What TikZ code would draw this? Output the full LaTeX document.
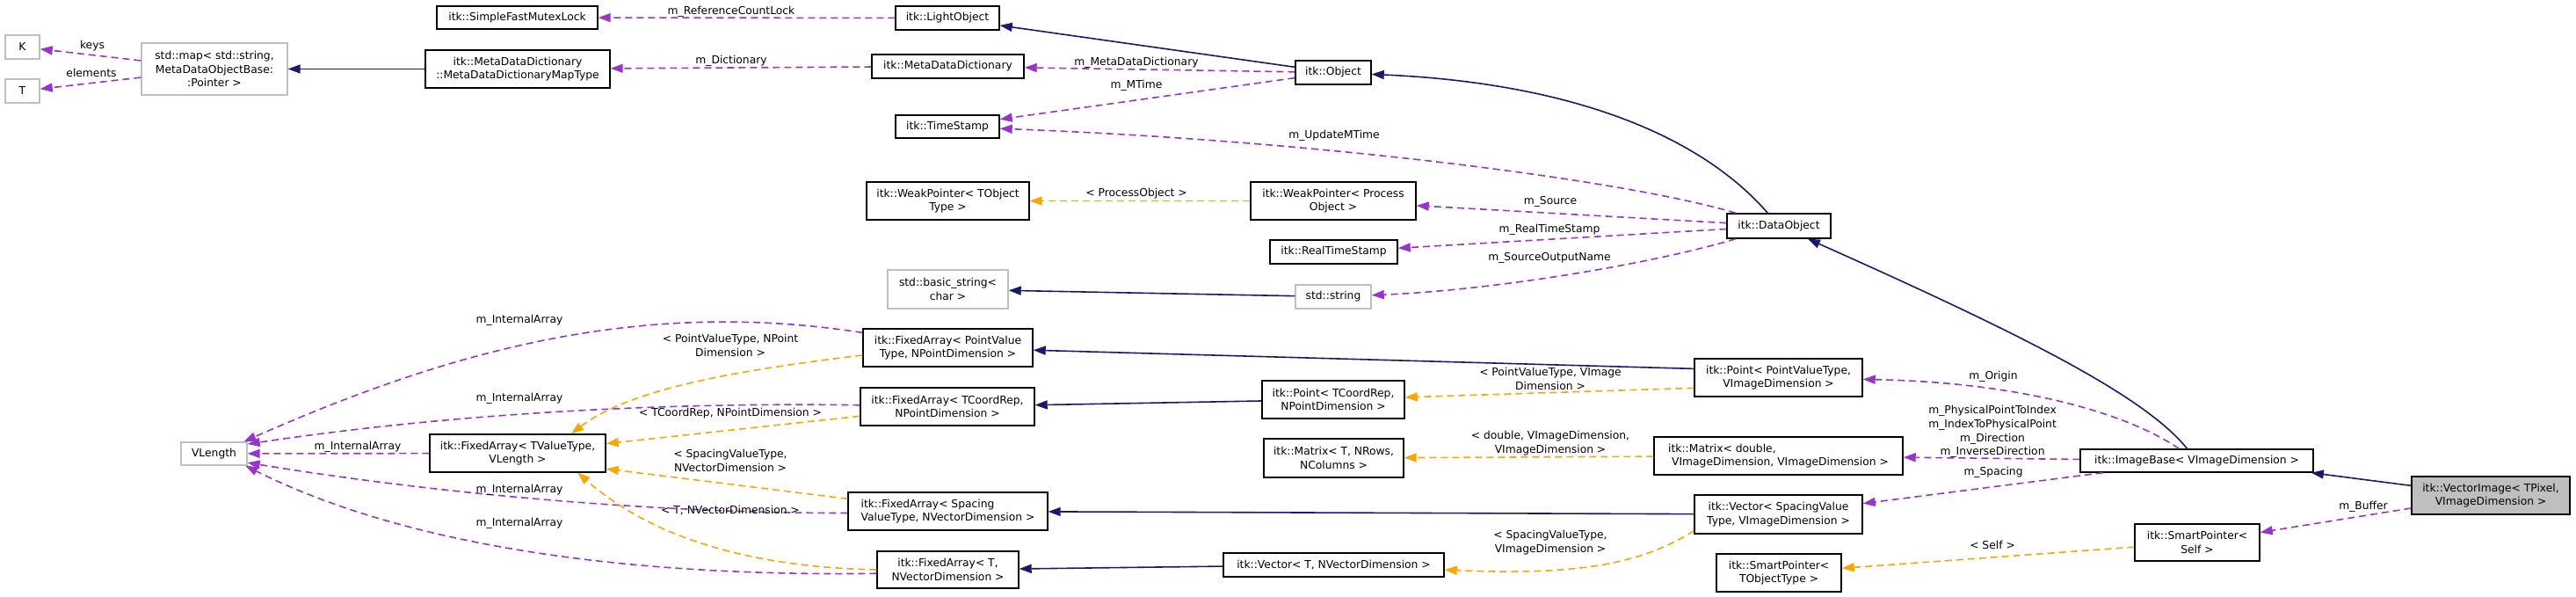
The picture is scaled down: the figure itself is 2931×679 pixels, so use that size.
\documentclass[tikz,border=0pt]{standalone}
\usepackage{fontspec}
\setmainfont{DejaVu Sans}
\usepackage{tikz}
\usetikzlibrary{arrows.meta}
\definecolor{navy}{RGB}{25,25,112}
\definecolor{usecol}{RGB}{154,50,205}
\definecolor{tmplcol}{RGB}{255,165,0}
\definecolor{ghost}{RGB}{191,191,191}

\begin{document}
\begin{tikzpicture}[x=0.5pt, y=-0.5pt,
  font=\fontsize{6.15}{7.85}\selectfont,
  cls/.style={draw=black, line width=0.7pt, fill=white, align=center, inner sep=0pt},
  ext/.style={cls, draw=ghost},
  cur/.style={cls, fill=ghost},
  inherit/.style={color=navy, line width=0.8pt, -{Triangle[length=7pt,width=5pt]}},
  usage/.style={color=usecol, line width=0.8pt, dash pattern=on 4pt off 2.5pt, -{Triangle[length=7pt,width=5pt]}},
  tmpl/.style={usage, color=tmplcol},
  lbl/.style={inner sep=0pt, align=center}]
  \useasboundingbox (0,0) rectangle (2931,679);

  % classes, right to left
  \node[cur, minimum width=90pt, minimum height=21.5pt] (vecImg) at (2834,563.5) {itk::VectorImage< TPixel,\\VImageDimension >};
  \node[cls, minimum width=132.5pt, minimum height=13pt] (imgBase) at (2499.5,524) {itk::ImageBase< VImageDimension >};
  \node[cls, minimum width=71pt, minimum height=21pt] (spSelf) at (2500,617) {itk::SmartPointer<\\Self >};
  \node[cls, minimum width=59pt, minimum height=14pt] (dataObj) at (2024,257) {itk::DataObject};
  \node[cls, minimum width=95.5pt, minimum height=21.5pt] (pointImg) at (2023.5,429.5) {itk::Point< PointValueType,\\VImageDimension >};
  \node[cls, align=left, minimum width=141.5pt, minimum height=21.5pt] (matrixImg) at (2023.5,518.5) {itk::Matrix< double,\\\ VImageDimension, VImageDimension >};
  \node[cls, minimum width=95.5pt, minimum height=22pt] (vectorImg) at (2023.5,585) {itk::Vector< SpacingValue\\Type, VImageDimension >};
  \node[cls, minimum width=71pt, minimum height=21.5pt] (spObj) at (2024,651.5) {itk::SmartPointer<\\TObjectType >};
  \node[cls, minimum width=43pt, minimum height=13.5pt] (object) at (1517,82.5) {itk::Object};
  \node[cls, minimum width=94pt, minimum height=21.5pt] (wpProc) at (1517,228.5) {itk::WeakPointer< Process\\Object >};
  \node[cls, minimum width=72.5pt, minimum height=13.5pt] (realTime) at (1517.5,286.5) {itk::RealTimeStamp};
  \node[ext, minimum width=43pt, minimum height=13.5pt] (stdString) at (1517,337.5) {std::string};
  \node[cls, minimum width=81pt, minimum height=21.5pt] (pointCoord) at (1517,454.5) {itk::Point< TCoordRep,\\NPointDimension >};
  \node[cls, minimum width=79.5pt, minimum height=22pt] (matrixT) at (1517.5,521) {itk::Matrix< T, NRows,\\NColumns >};
  \node[cls, minimum width=125.5pt, minimum height=13.5pt] (vectorT) at (1517.5,642.5) {itk::Vector< T, NVectorDimension >};
  \node[cls, minimum width=59pt, minimum height=13.5pt] (lightObj) at (1078,20.5) {itk::LightObject};
  \node[cls, minimum width=86.5pt, minimum height=13.5pt] (mdd) at (1078.5,75.5) {itk::MetaDataDictionary};
  \node[cls, minimum width=59pt, minimum height=13pt] (timeStamp) at (1078,144) {itk::TimeStamp};
  \node[cls, minimum width=92.5pt, minimum height=21.5pt] (wpObj) at (1078.5,228.5) {itk::WeakPointer< TObject\\Type >};
  \node[ext, minimum width=68.5pt, minimum height=22pt] (basicString) at (1078.5,329) {std::basic\_string<\\char >};
  \node[cls, minimum width=96.5pt, minimum height=21.5pt] (faPoint) at (1078.5,395.5) {itk::FixedArray< PointValue\\Type, NPointDimension >};
  \node[cls, minimum width=99pt, minimum height=21.5pt] (faCoord) at (1078,462.5) {itk::FixedArray< TCoordRep,\\NPointDimension >};
  \node[cls, align=left, minimum width=113.5pt, minimum height=21.5pt] (faSpacing) at (1078.5,581.5) {itk::FixedArray< Spacing\\ValueType, NVectorDimension >};
  \node[cls, minimum width=80.5pt, minimum height=21pt] (faT) at (1078.5,648) {itk::FixedArray< T,\\NVectorDimension >};
  \node[cls, minimum width=91.5pt, minimum height=13pt] (mutex) at (588.5,20) {itk::SimpleFastMutexLock};
  \node[cls, minimum width=105pt, minimum height=21.5pt] (mapType) at (589,78.5) {itk::MetaDataDictionary\\::MetaDataDictionaryMapType};
  \node[cls, minimum width=100pt, minimum height=21.5pt] (faBase) at (589,515.5) {itk::FixedArray< TValueType,\\VLength >};
  \node[ext, minimum width=83pt, minimum height=29.5pt] (stdMap) at (244,78.5) {std::map< std::string,\\MetaDataObjectBase:\\:Pointer >};
  \node[ext, minimum width=37.5pt, minimum height=13pt] (vLength) at (243.5,516) {VLength};
  \node[ext, minimum width=19.5pt, minimum height=13.5pt] (keyK) at (25.5,53.5) {K};
  \node[ext, minimum width=19.5pt, minimum height=13.5pt] (elemT) at (25.5,103.5) {T};

  % inheritance
  \draw[inherit] (vecImg.173) -- (imgBase.-6);
  \draw[inherit] (imgBase) .. controls (2440,450) and (2300,380) .. (dataObj);
  \draw[inherit] (dataObj) .. controls (1940,160) and (1800,95) .. (object);
  \draw[inherit] (object) -- (lightObj);
  \draw[inherit] (mapType) -- (stdMap);
  \draw[inherit] (stdString) -- (basicString);
  \draw[inherit] (pointImg.174) -- (faPoint);
  \draw[inherit] (pointCoord) -- (faCoord);
  \draw[inherit] (vectorImg) -- (faSpacing);
  \draw[inherit] (vectorT) -- (faT);

  % members
  \draw[usage] (lightObj) -- (mutex);
  \draw[usage] (object) -- (mdd);
  \draw[usage] (object) -- (timeStamp);
  \draw[usage] (mdd) -- (mapType);
  \draw[usage] (stdMap) -- (keyK);
  \draw[usage] (stdMap) -- (elemT);
  \draw[usage] (dataObj) .. controls (1850,205) and (1500,160) .. (timeStamp);
  \draw[usage] (dataObj) -- (wpProc);
  \draw[usage] (dataObj) -- (realTime);
  \draw[usage] (dataObj) .. controls (1880,300) and (1700,330) .. (stdString);
  \draw[usage] (imgBase) .. controls (2420,470) and (2300,435) .. (pointImg);
  \draw[usage] (imgBase) -- (matrixImg);
  \draw[usage] (imgBase) -- (vectorImg);
  \draw[usage] (vecImg) -- (spSelf);
  \draw[usage] (faPoint.170) .. controls (734,340) and (520,395) .. (vLength.22);
  \draw[usage] (faCoord.179) .. controls (800,458) and (550,465) .. (vLength.16);
  \draw[usage] (faBase) -- (vLength);
  \draw[usage] (faSpacing.181) .. controls (800,584) and (550,570) .. (vLength.-15);
  \draw[usage] (faT.183) .. controls (800,655) and (500,640) .. (vLength.-21);

  % template instances
  \draw[tmpl] (wpProc) -- (wpObj);
  \draw[tmpl] (spSelf) -- (spObj);
  \draw[tmpl] (pointImg.187) -- (pointCoord);
  \draw[tmpl] (matrixImg) -- (matrixT);
  \draw[tmpl] (vectorImg.191) .. controls (1870,640) and (1800,655) .. (vectorT);
  \draw[tmpl] (faPoint.185) .. controls (850,420) and (720,440) .. (faBase.20);
  \draw[tmpl] (faCoord) -- (faBase);
  \draw[tmpl] (faSpacing) -- (faBase.-10);
  \draw[tmpl] (faT.west) .. controls (850,645) and (740,610) .. (faBase.-18);

  % edge labels
  \node[lbl] (lRefLock) at (832,13) {m\_ReferenceCountLock};
  \node[lbl] (lDict) at (832,69) {m\_Dictionary};
  \node[lbl] (lKeys) at (105,52) {keys};
  \node[lbl] (lElems) at (104,83) {elements};
  \node[lbl] (lMdd) at (1293,71) {m\_MetaDataDictionary};
  \node[lbl] (lMTime) at (1293,97) {m\_MTime};
  \node[lbl] (lUpdate) at (1518,154) {m\_UpdateMTime};
  \node[lbl] (lProc) at (1293,220) {< ProcessObject >};
  \node[lbl] (lSource) at (1764,229) {m\_Source};
  \node[lbl] (lReal) at (1763,261) {m\_RealTimeStamp};
  \node[lbl] (lOutName) at (1763,293) {m\_SourceOutputName};
  \node[lbl] (lPointImg) at (1764,431) {< PointValueType, VImage\\Dimension >};
  \node[lbl] (lMatrixImg) at (1764,504) {< double, VImageDimension,\\VImageDimension >};
  \node[lbl] (lVectorImg) at (1764,617) {< SpacingValueType,\\VImageDimension >};
  \node[lbl] (lArr1) at (591,364) {m\_InternalArray};
  \node[lbl] (lArr2) at (591,453) {m\_InternalArray};
  \node[lbl] (lArr3) at (407,508) {m\_InternalArray};
  \node[lbl] (lArr4) at (591,557) {m\_InternalArray};
  \node[lbl] (lArr5) at (591,595) {m\_InternalArray};
  \node[lbl] (lFaPoint) at (831,393) {< PointValueType, NPoint\\Dimension >};
  \node[lbl] (lFaCoord) at (831,470) {< TCoordRep, NPointDimension >};
  \node[lbl] (lFaSpacing) at (831,524) {< SpacingValueType,\\NVectorDimension >};
  \node[lbl] (lFaT) at (831,581) {< T, NVectorDimension >};
  \node[lbl] (lOrigin) at (2268,428) {m\_Origin};
  \node[lbl] (lDirs) at (2267,491) {m\_PhysicalPointToIndex\\m\_IndexToPhysicalPoint\\m\_Direction\\m\_InverseDirection};
  \node[lbl] (lSpacing) at (2268,537) {m\_Spacing};
  \node[lbl] (lBuffer) at (2689,576) {m\_Buffer};
  \node[lbl] (lSelf) at (2267,620) {< Self >};
\end{tikzpicture}
\end{document}
